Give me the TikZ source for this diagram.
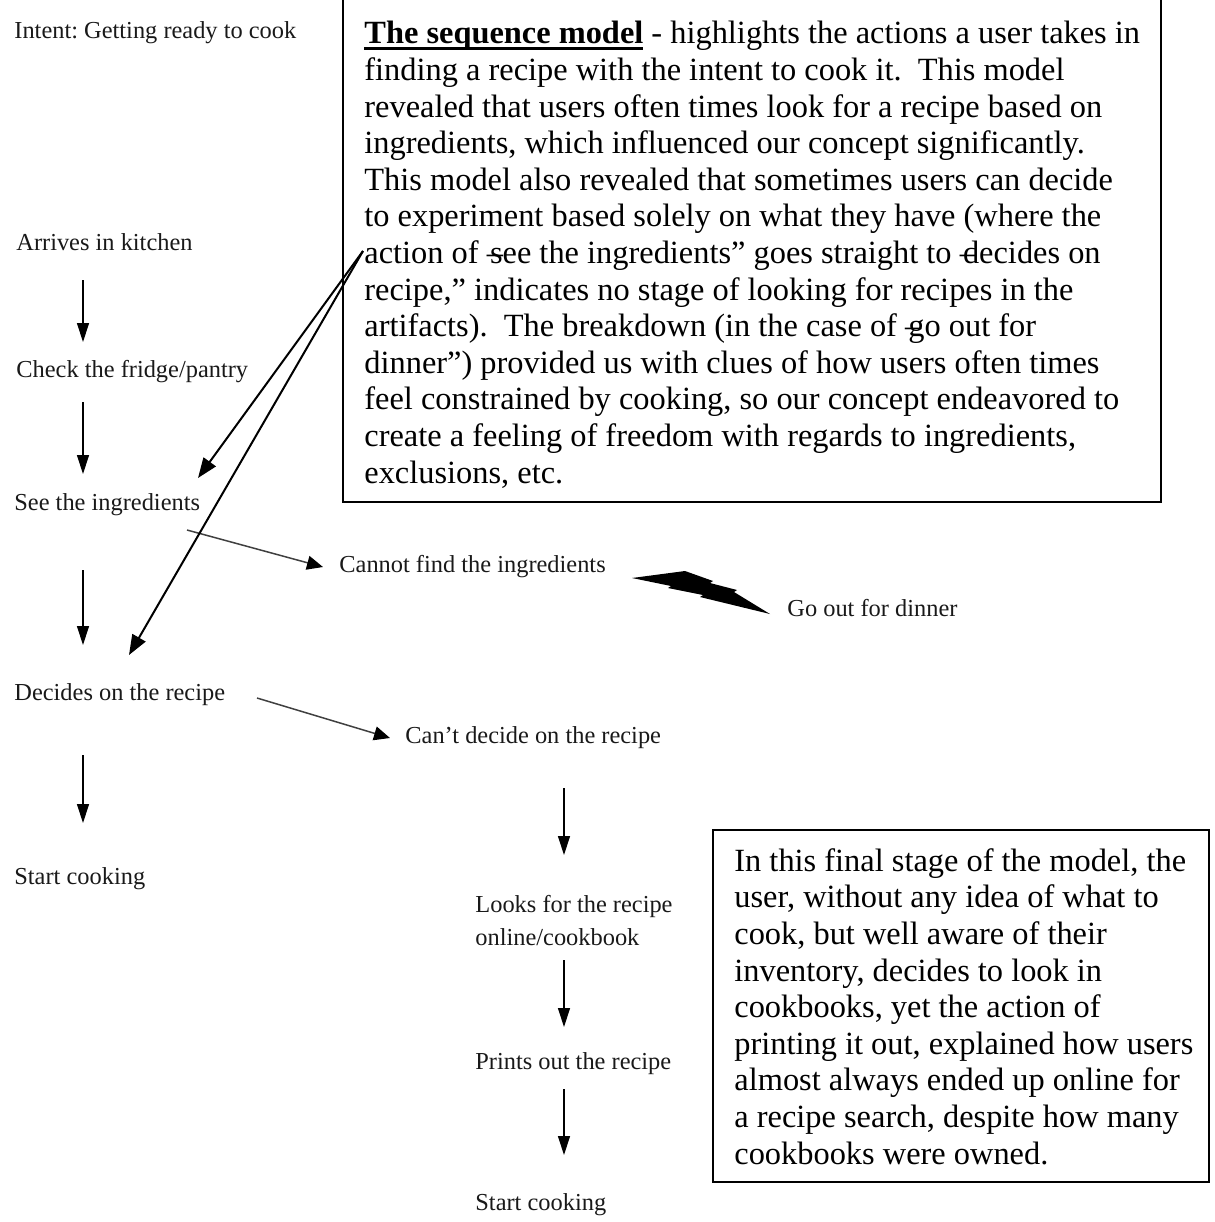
\documentclass[tikz,border=0pt]{standalone}
\usepackage{fontspec}
\setmainfont{Liberation Serif}
\usetikzlibrary{arrows.meta}
\tikzset{
 lbl/.style={anchor=west, inner sep=0pt, font=\fontsize{12.2pt}{16.5pt}\selectfont, text=black!90, align=left},
 boxtxt/.style={anchor=north west, inner sep=0pt, align=left, font=\fontsize{16.2pt}{18.3pt}\selectfont},
 varrow/.style={line width=0.6pt, -{Triangle[length=9.5pt,width=6pt]}},
 darrow/.style={line width=0.75pt, draw=black!75, -{Triangle[length=8pt,width=7pt,fill=black,color=black]}},
 larrow/.style={line width=1pt, -{Triangle[length=10pt,width=7.5pt]}},
 frame/.style={line width=1.2pt}
}
\newcommand{\dq}{–\kern-0.40em}
\newcommand{\thickul}[1]{\setbox0\hbox{#1}\rlap{\rule[-3.2pt]{\wd0}{1.4pt}}\box0\relax}
\frenchspacing
\begin{document}
\begin{tikzpicture}[x=0.5pt,y=-0.5pt]
\useasboundingbox (0,0) rectangle (1215,1222);
% left column
\node[lbl] (intent) at (14,33) {Intent: Getting ready to cook};
\node[lbl] (arrives) at (16,242) {Arrives in kitchen};
\node[lbl] (check) at (16,372) {Check the fridge/pantry};
\node[lbl] (see) at (14,505) {See the ingredients};
\node[lbl] (decides) at (14,695) {Decides on the recipe};
\node[lbl] (start1) at (14,879) {Start cooking};
% middle / right column
\node[lbl] (cannot) at (339,567) {Cannot find the ingredients};
\node[lbl] (goout) at (787,608) {Go out for dinner};
\node[lbl] (cant) at (405,738) {Can’t decide on the recipe};
\node[lbl] (looks) at (475,921) {Looks for the recipe\\online/cookbook};
\node[lbl] (prints) at (475,1064) {Prints out the recipe};
\node[lbl] (start2) at (475,1205) {Start cooking};
% box 1
\draw[frame] (343,-10) -- (343,502) -- (1161,502) -- (1161,-10);
\node[boxtxt] (box1) at (364,21) {\thickul{\textbf{The sequence model}} - highlights the actions a user takes in\\
finding a recipe with the intent to cook it.\ \ This model\\
revealed that users often times look for a recipe based on\\
ingredients, which influenced our concept significantly.\\
This model also revealed that sometimes users can decide\\
to experiment based solely on what they have (where the\\
action of \dq see the ingredients” goes straight to \dq decides on\\
recipe,” indicates no stage of looking for recipes in the\\
artifacts).\ \ The breakdown (in the case of \dq go out for\\
dinner”) provided us with clues of how users often times\\
feel constrained by cooking, so our concept endeavored to\\
create a feeling of freedom with regards to ingredients,\\
exclusions, etc.};
% box 2
\draw[frame] (713,830) rectangle (1209,1182);
\node[boxtxt] (box2) at (734,848) {In this final stage of the model, the\\
user, without any idea of what to\\
cook, but well aware of their\\
inventory, decides to look in\\
cookbooks, yet the action of\\
printing it out, explained how users\\
almost always ended up online for\\
a recipe search, despite how many\\
cookbooks were owned.};
% vertical arrows
\draw[varrow] ([shift={(67,38)}]arrives.west) -- ([shift={(67,-30)}]check.west);
\draw[varrow] ([shift={(67,30)}]check.west) -- ([shift={(69,-31)}]see.west);
\draw[varrow] ([shift={(69,65)}]see.west) -- ([shift={(69,-50)}]decides.west);
\draw[varrow] ([shift={(69,60)}]decides.west) -- ([shift={(69,-56)}]start1.west);
\draw[varrow] ([shift={(159,50)}]cant.west) -- ([shift={(89,-66)}]looks.west);
\draw[varrow] ([shift={(89,39)}]looks.west) -- ([shift={(89,-37)}]prints.west);
\draw[varrow] ([shift={(89,25)}]prints.west) -- ([shift={(89,-50)}]start2.west);
% diagonal branches
\draw[darrow] ([shift={(173,25)}]see.west) -- ([shift={(-16,0)}]cannot.west);
\draw[darrow] ([shift={(243,3)}]decides.west) -- ([shift={(-15,0)}]cant.west);
% long arrows from the box text
\coordinate (act) at (363,251);
\draw[larrow] (act) -- ([shift={(184,-27)}]see.west);
\draw[larrow] (act) -- ([shift={(115,-40)}]decides.west);
% lightning bolt
\fill[black] (632,578) -- (685,571) -- (713,581) -- (710,583) -- (737,590) -- (734,592) -- (770,614)
  -- (700,597) -- (703,595) -- (668,588) -- (671,586) -- cycle;
\end{tikzpicture}
\end{document}
